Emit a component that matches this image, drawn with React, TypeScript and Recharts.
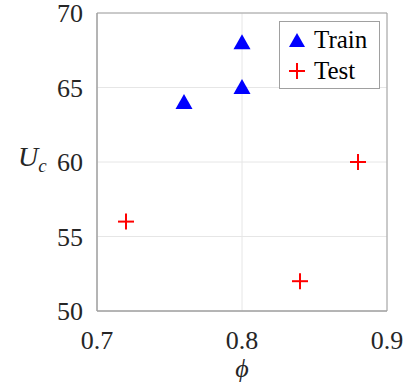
import React from "react";
import {
  ScatterChart,
  Scatter,
  XAxis,
  YAxis,
  CartesianGrid,
  ReferenceArea,
} from "recharts";

const trainPhi = [0.76, 0.8, 0.8];
const trainUc = [64, 68, 65];
const testPhi = [0.72, 0.84, 0.88];
const testUc = [56, 52, 60];
const xTicks = [0.7, 0.8, 0.9];
const yTicks = [50, 55, 60, 65, 70];

const trainData = trainPhi.map((x, i) => ({ x, y: trainUc[i] }));
const testData = testPhi.map((x, i) => ({ x, y: testUc[i] }));

const FONT = "'Liberation Serif', 'DejaVu Serif', serif";

const Triangle = (props: any) => {
  const { cx, cy } = props;
  if (cx == null || cy == null) return null;
  const w = 17;
  const h = 15;
  return (
    <polygon
      points={`${cx},${cy - h / 2 - 1} ${cx - w / 2},${cy + h / 2 - 1} ${cx + w / 2},${cy + h / 2 - 1}`}
      fill="#0000ff"
    />
  );
};

const Plus = (props: any) => {
  const { cx, cy } = props;
  if (cx == null || cy == null) return null;
  const r = 8;
  return (
    <g stroke="#ff0000" strokeWidth={2}>
      <line x1={cx - r} y1={cy} x2={cx + r} y2={cy} />
      <line x1={cx} y1={cy - r} x2={cx} y2={cy + r} />
    </g>
  );
};

const XTick = (props: any) => {
  const { x, y, payload } = props;
  return (
    <text x={x} y={y + 30} textAnchor="middle" style={{ fontFamily: FONT, fontSize: 26 }} fill="#262626">
      {payload.value.toFixed(1)}
    </text>
  );
};

const YTick = (props: any) => {
  const { x, y, payload } = props;
  return (
    <text x={x - 6} y={y + 9} textAnchor="end" style={{ fontFamily: FONT, fontSize: 26 }} fill="#262626">
      {payload.value}
    </text>
  );
};

const LegendBox = () => (
  <div
    style={{
      position: "absolute",
      left: 279,
      top: 21,
      width: 101,
      height: 68,
      border: "1px solid #a0a0a0",
      background: "#fff",
      fontFamily: FONT,
      fontSize: 25,
      color: "#000",
      boxSizing: "border-box",
      padding: "2px 0 0 8px",
      lineHeight: "31px",
    }}
  >
    <div style={{ display: "flex", alignItems: "center" }}>
      <svg width={18} height={16} style={{ marginRight: 8 }}>
        <polygon points="9,1 1,15 17,15" fill="#0000ff" />
      </svg>
      Train
    </div>
    <div style={{ display: "flex", alignItems: "center" }}>
      <svg width={18} height={18} style={{ marginRight: 8 }}>
        <g stroke="#ff0000" strokeWidth={2}>
          <line x1={1} y1={9} x2={17} y2={9} />
          <line x1={9} y1={1} x2={9} y2={17} />
        </g>
      </svg>
      Test
    </div>
  </div>
);

export default function App() {
  return (
    <div style={{ position: "absolute", left: 0, top: 0, width: 409, height: 387, background: "#fff" }}>
      <ScatterChart
        width={409}
        height={387}
        margin={{ top: 13, right: 22, bottom: 0, left: 0 }}
      >
        <CartesianGrid stroke="#e6e6e6" strokeWidth={1} />
        <XAxis
          type="number"
          dataKey="x"
          domain={[0.7, 0.9]}
          ticks={xTicks}
          height={76}
          stroke="#a0a0a0"
          tickLine={false}
          tick={<XTick />}
          interval={0}
        />
        <YAxis
          type="number"
          dataKey="y"
          domain={[50, 70]}
          ticks={yTicks}
          width={97}
          stroke="#a0a0a0"
          tickLine={false}
          tick={<YTick />}
          interval={0}
        />
        <ReferenceArea
          x1={0.7}
          x2={0.9}
          y1={50}
          y2={70}
          fill="none"
          stroke="#a0a0a0"
          strokeWidth={1}
          ifOverflow="visible"
        />
        <Scatter name="Train" data={trainData} shape={<Triangle />} isAnimationActive={false} />
        <Scatter name="Test" data={testData} shape={<Plus />} isAnimationActive={false} />
        <text x={242} y={377} textAnchor="middle" style={{ fontFamily: FONT, fontStyle: "italic", fontSize: 26 }} fill="#262626">
          ϕ
        </text>
        <text x={18} y={166} style={{ fontFamily: FONT, fontStyle: "italic", fontSize: 28 }} fill="#262626">
          U
          <tspan style={{ fontSize: 19 }} dy={6}>c</tspan>
        </text>
      </ScatterChart>
      <LegendBox />
    </div>
  );
}
